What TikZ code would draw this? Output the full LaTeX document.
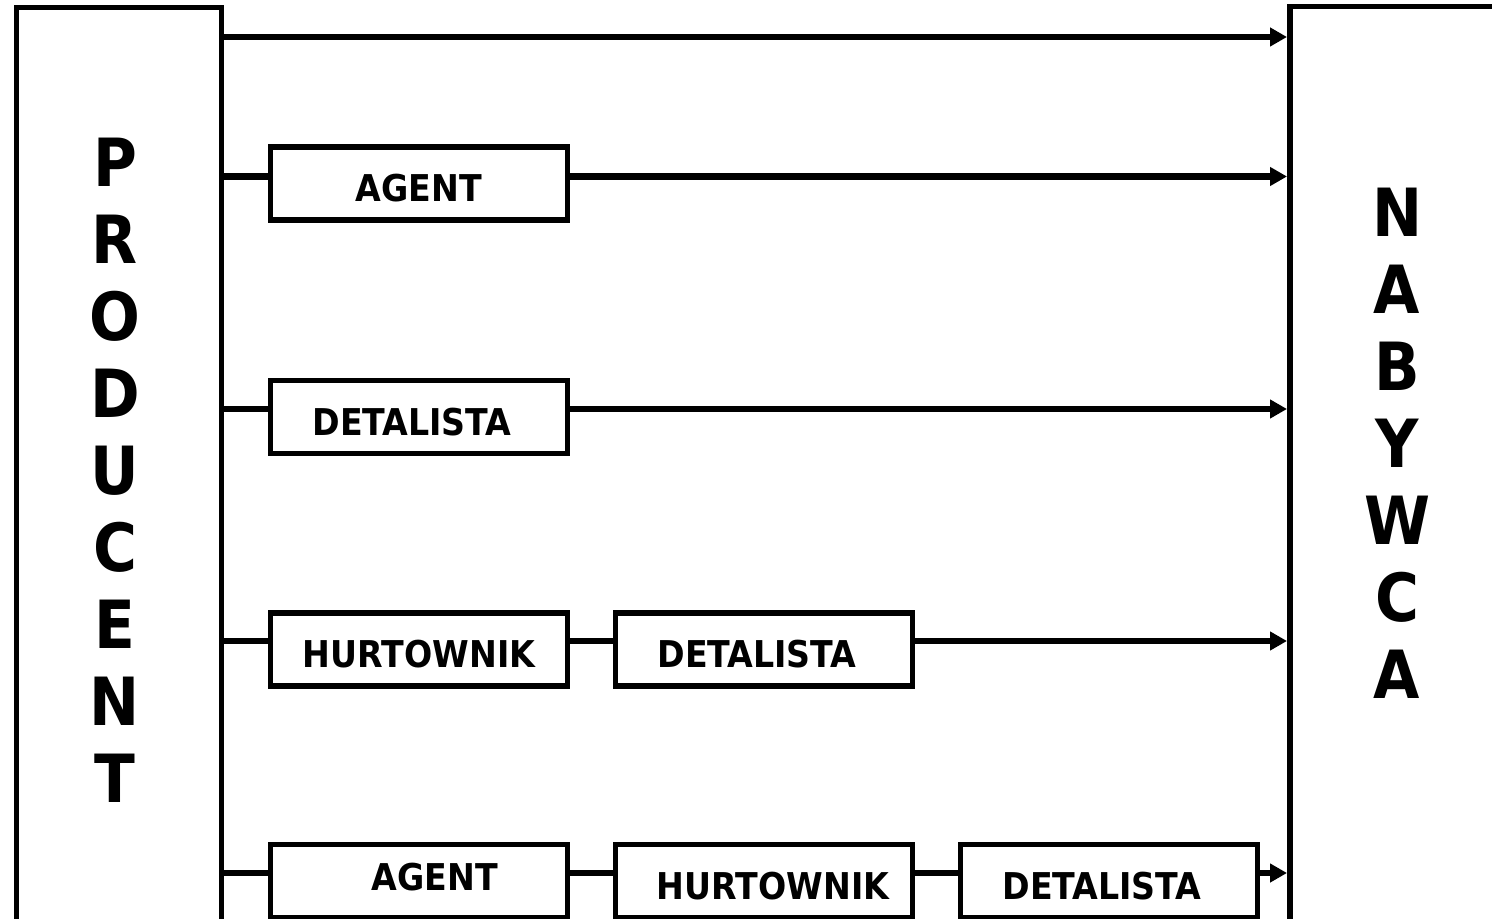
\documentclass[tikz,border=0pt]{standalone}
\usepackage{fontspec}
\setmainfont{DejaVu Sans Condensed}
\usepackage{tikz}
\usetikzlibrary{calc,positioning,arrows.meta}

\tikzset{
  stage/.style={draw, line width=0.055cm, minimum width=2.97cm, minimum height=0.73cm,
    inner sep=0pt, font=\bfseries\fontsize{10.5}{12}\selectfont, text height=10.5pt, text depth=0pt},
  side/.style={draw, line width=0.055cm, minimum height=11cm, inner sep=0pt},
  tall/.style={align=center, inner sep=0pt, font=\bfseries\fontsize{18.9}{21.9}\selectfont},
  link/.style={line width=0.065cm},
  flow/.style={line width=0.065cm, -{Triangle[length=0.17cm,width=0.18cm]}}
}

\begin{document}
\begin{tikzpicture}[x=0.01cm,y=-0.01cm]
    \useasboundingbox (0,0) rectangle (1492,919);
    \clip (0,0) rectangle (1492,919);

    \node[side, minimum width=2.05cm, anchor=north west] (prod) at (13.5,5) {};
    \node[side, minimum width=4cm, anchor=north west] (buyer) at (1287,4) {};
    \node[tall] (prodtxt) at (115,470.5) {P\\R\\O\\D\\U\\C\\E\\N\\T};
    \node[tall] (buyertxt) at (1397,443) {N\\A\\B\\Y\\W\\C\\A};

    \coordinate (r1) at (0,37);
    \coordinate (r2) at (0,176.5);
    \coordinate (r3) at (0,409);
    \coordinate (r4) at (0,641);
    \coordinate (r5) at (0,873);

    \node[stage] (ag2) at (419,183.5) {AGENT};
    \node[stage] (det3) at (419,417) {\hspace*{-0.14cm}DETALISTA};
    \node[stage] (hurt4) at (419,649.5) {HURTOWNIK};
    \node[stage] (det4) at (764,649.5) {\hspace*{-0.14cm}DETALISTA};
    \node[stage] (ag5) at (419,881) {\hspace*{0.32cm}\raisebox{0.09cm}{AGENT}};
    \node[stage] (hurt5) at (764,881) {\hspace*{0.18cm}HURTOWNIK};
    \node[stage] (det5) at (1109,881) {\hspace*{-0.14cm}DETALISTA};

    \draw[flow] (prod.east |- r1) -- (buyer.west |- r1);

    \draw[link] (prod.east |- r2) -- (ag2.west |- r2);
    \draw[flow] (ag2.east |- r2) -- (buyer.west |- r2);

    \draw[link] (prod.east |- r3) -- (det3.west |- r3);
    \draw[flow] (det3.east |- r3) -- (buyer.west |- r3);

    \draw[link] (prod.east |- r4) -- (hurt4.west |- r4);
    \draw[link] (hurt4.east |- r4) -- (det4.west |- r4);
    \draw[flow] (det4.east |- r4) -- (buyer.west |- r4);

    \draw[link] (prod.east |- r5) -- (ag5.west |- r5);
    \draw[link] (ag5.east |- r5) -- (hurt5.west |- r5);
    \draw[link] (hurt5.east |- r5) -- (det5.west |- r5);
    \draw[flow] (det5.east |- r5) -- (buyer.west |- r5);
\end{tikzpicture}
\end{document}
